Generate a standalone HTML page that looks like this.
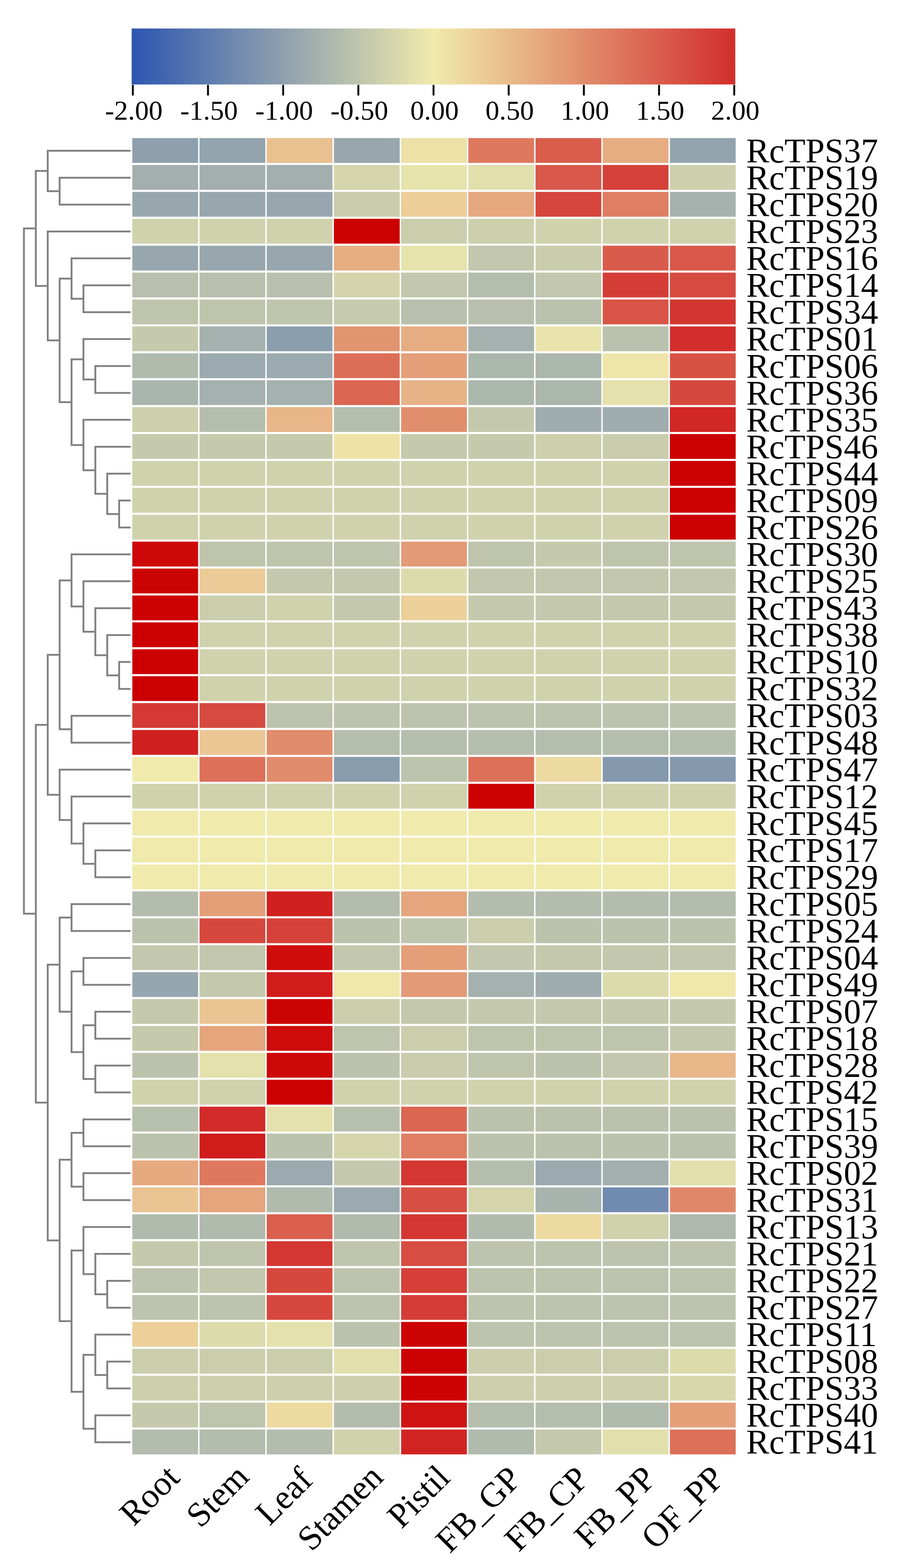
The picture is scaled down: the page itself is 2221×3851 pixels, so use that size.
<!DOCTYPE html>
<html lang="en">
<head>
<meta charset="utf-8">
<title>RcTPS expression heatmap</title>
<style>
html,body{margin:0;padding:0;background:#fff;}
body{width:2221px;height:3851px;overflow:hidden;}
svg{display:block;}
.t{font-family:"Liberation Serif","Times New Roman",Times,serif;fill:#000;}
</style>
</head>
<body>
<svg width="2221" height="3851" viewBox="0 0 2221 3851" role="img" aria-label="Heatmap of RcTPS gene expression">
<defs><linearGradient id="cb" x1="0" y1="0" x2="1" y2="0">
<stop offset="0" stop-color="#2c56b0"/><stop offset="0.5" stop-color="#f0eaac"/><stop offset="1" stop-color="#d22e2c"/>
</linearGradient></defs>
<rect width="2221" height="3851" fill="#fff"/>
<rect x="323.5" y="70" width="1483" height="137.5" fill="url(#cb)"/>
<g fill="#000">
<rect x="324" y="208.5" width="4.6" height="26"/>
<rect x="508.7" y="208.5" width="4.6" height="26"/>
<rect x="693.4" y="208.5" width="4.6" height="26"/>
<rect x="878.1" y="208.5" width="4.6" height="26"/>
<rect x="1062.8" y="208.5" width="4.6" height="26"/>
<rect x="1247.5" y="208.5" width="4.6" height="26"/>
<rect x="1432.2" y="208.5" width="4.6" height="26"/>
<rect x="1616.9" y="208.5" width="4.6" height="26"/>
<rect x="1801.6" y="208.5" width="4.6" height="26"/>
</g>
<g class="t" font-size="68" text-anchor="middle">
<text x="328.8" y="294.2">-2.00</text>
<text x="513.5" y="294.2">-1.50</text>
<text x="698.2" y="294.2">-1.00</text>
<text x="882.9" y="294.2">-0.50</text>
<text x="1067.6" y="294.2">0.00</text>
<text x="1252.3" y="294.2">0.50</text>
<text x="1437" y="294.2">1.00</text>
<text x="1621.7" y="294.2">1.50</text>
<text x="1806.4" y="294.2">2.00</text>
</g>
<path d="M320.7 436.38H146.52V502.46H320.7M320.7 370.3H117.28V469.42H146.52M320.7 700.7H205V766.78H320.7M320.7 634.62H175.76V733.74H205M320.7 898.94H234.24V965.02H320.7M320.7 832.86H205V931.98H234.24M320.7 1229.34H292.72V1295.42H320.7M320.7 1163.26H263.48V1262.38H292.72M320.7 1097.18H234.24V1212.82H263.48M320.7 1031.1H205V1155H234.24M205 882.42H175.76V1093.05H205M175.76 684.18H146.52V987.74H175.76M320.7 568.54H117.28V835.96H146.52M117.28 419.86H88.04V702.25H117.28M320.7 1625.82H292.72V1691.9H320.7M320.7 1559.74H263.48V1658.86H292.72M320.7 1493.66H234.24V1609.3H263.48M320.7 1427.58H205V1551.48H234.24M320.7 1361.5H175.76V1489.53H205M320.7 1757.98H175.76V1824.06H320.7M175.76 1425.51H146.52V1791.02H175.76M320.7 2088.38H234.24V2154.46H320.7M320.7 2022.3H205V2121.42H234.24M320.7 1956.22H175.76V2071.86H205M320.7 1890.14H146.52V2014.04H175.76M146.52 1608.27H117.28V1952.09H146.52M320.7 2220.54H175.76V2286.62H320.7M320.7 2352.7H205V2418.78H320.7M320.7 2484.86H234.24V2550.94H320.7M320.7 2617.02H234.24V2683.1H320.7M234.24 2517.9H205V2650.06H234.24M205 2385.74H175.76V2583.98H205M175.76 2253.58H146.52V2484.86H175.76M320.7 2749.18H205V2815.26H320.7M320.7 2881.34H205V2947.42H320.7M205 2782.22H175.76V2914.38H205M320.7 3145.66H263.48V3211.74H320.7M320.7 3079.58H234.24V3178.7H263.48M320.7 3013.5H205V3129.14H234.24M320.7 3343.9H263.48V3409.98H320.7M320.7 3277.82H234.24V3376.94H263.48M320.7 3476.06H234.24V3542.14H320.7M234.24 3327.38H205V3509.1H234.24M205 3071.32H175.76V3418.24H205M175.76 2848.3H146.52V3244.78H175.76M146.52 2369.22H117.28V3046.54H146.52M117.28 1780.18H88.04V2707.88H117.28M88.04 561.05H58.8V2244.03H88.04" fill="none" stroke="#808080" stroke-width="4.5" stroke-linejoin="miter" stroke-linecap="butt"/>
<g>
<rect x="325.1" y="339.1" width="161.6" height="61" fill="#8ea0ae"/>
<rect x="490.2" y="339.1" width="161.6" height="61" fill="#93a4ae"/>
<rect x="655.3" y="339.1" width="161.6" height="61" fill="#e9c08f"/>
<rect x="820.4" y="339.1" width="161.6" height="61" fill="#98a7ae"/>
<rect x="985.5" y="339.1" width="161.6" height="61" fill="#eee1a6"/>
<rect x="1150.6" y="339.1" width="161.6" height="61" fill="#de795f"/>
<rect x="1315.7" y="339.1" width="161.6" height="61" fill="#da5d4c"/>
<rect x="1480.8" y="339.1" width="161.6" height="61" fill="#e6ad82"/>
<rect x="1645.9" y="339.1" width="161.6" height="61" fill="#93a4ae"/>
<rect x="325.1" y="405.18" width="161.6" height="61" fill="#a2afae"/>
<rect x="490.2" y="405.18" width="161.6" height="61" fill="#a2afae"/>
<rect x="655.3" y="405.18" width="161.6" height="61" fill="#a2afae"/>
<rect x="820.4" y="405.18" width="161.6" height="61" fill="#d5d5ad"/>
<rect x="985.5" y="405.18" width="161.6" height="61" fill="#e6e3ac"/>
<rect x="1150.6" y="405.18" width="161.6" height="61" fill="#e1dfac"/>
<rect x="1315.7" y="405.18" width="161.6" height="61" fill="#d95849"/>
<rect x="1480.8" y="405.18" width="161.6" height="61" fill="#d54139"/>
<rect x="1645.9" y="405.18" width="161.6" height="61" fill="#ced0ad"/>
<rect x="325.1" y="471.26" width="161.6" height="61" fill="#98a7ae"/>
<rect x="490.2" y="471.26" width="161.6" height="61" fill="#98a7ae"/>
<rect x="655.3" y="471.26" width="161.6" height="61" fill="#98a7ae"/>
<rect x="820.4" y="471.26" width="161.6" height="61" fill="#c9ccad"/>
<rect x="985.5" y="471.26" width="161.6" height="61" fill="#ecce99"/>
<rect x="1150.6" y="471.26" width="161.6" height="61" fill="#e6a87f"/>
<rect x="1315.7" y="471.26" width="161.6" height="61" fill="#d6463c"/>
<rect x="1480.8" y="471.26" width="161.6" height="61" fill="#df7e62"/>
<rect x="1645.9" y="471.26" width="161.6" height="61" fill="#a6b2ae"/>
<rect x="325.1" y="537.34" width="161.6" height="61" fill="#d0d2ad"/>
<rect x="490.2" y="537.34" width="161.6" height="61" fill="#d0d2ad"/>
<rect x="655.3" y="537.34" width="161.6" height="61" fill="#d0d2ad"/>
<rect x="820.4" y="537.34" width="161.6" height="61" fill="#cc0000"/>
<rect x="985.5" y="537.34" width="161.6" height="61" fill="#cbcead"/>
<rect x="1150.6" y="537.34" width="161.6" height="61" fill="#cdcfad"/>
<rect x="1315.7" y="537.34" width="161.6" height="61" fill="#d0d2ad"/>
<rect x="1480.8" y="537.34" width="161.6" height="61" fill="#d0d2ad"/>
<rect x="1645.9" y="537.34" width="161.6" height="61" fill="#d0d2ad"/>
<rect x="325.1" y="603.42" width="161.6" height="61" fill="#98a7ae"/>
<rect x="490.2" y="603.42" width="161.6" height="61" fill="#98a7ae"/>
<rect x="655.3" y="603.42" width="161.6" height="61" fill="#98a7ae"/>
<rect x="820.4" y="603.42" width="161.6" height="61" fill="#e6ad82"/>
<rect x="985.5" y="603.42" width="161.6" height="61" fill="#e6e3ac"/>
<rect x="1150.6" y="603.42" width="161.6" height="61" fill="#c2c7ad"/>
<rect x="1315.7" y="603.42" width="161.6" height="61" fill="#c9ccad"/>
<rect x="1480.8" y="603.42" width="161.6" height="61" fill="#d95b4b"/>
<rect x="1645.9" y="603.42" width="161.6" height="61" fill="#d95849"/>
<rect x="325.1" y="669.5" width="161.6" height="61" fill="#b8c0ad"/>
<rect x="490.2" y="669.5" width="161.6" height="61" fill="#b8c0ad"/>
<rect x="655.3" y="669.5" width="161.6" height="61" fill="#b8c0ad"/>
<rect x="820.4" y="669.5" width="161.6" height="61" fill="#d3d4ad"/>
<rect x="985.5" y="669.5" width="161.6" height="61" fill="#c2c7ad"/>
<rect x="1150.6" y="669.5" width="161.6" height="61" fill="#b5bead"/>
<rect x="1315.7" y="669.5" width="161.6" height="61" fill="#c2c7ad"/>
<rect x="1480.8" y="669.5" width="161.6" height="61" fill="#d53e37"/>
<rect x="1645.9" y="669.5" width="161.6" height="61" fill="#d64a3f"/>
<rect x="325.1" y="735.58" width="161.6" height="61" fill="#bfc5ad"/>
<rect x="490.2" y="735.58" width="161.6" height="61" fill="#bfc5ad"/>
<rect x="655.3" y="735.58" width="161.6" height="61" fill="#bfc5ad"/>
<rect x="820.4" y="735.58" width="161.6" height="61" fill="#c7cbad"/>
<rect x="985.5" y="735.58" width="161.6" height="61" fill="#b8c0ad"/>
<rect x="1150.6" y="735.58" width="161.6" height="61" fill="#b8c0ad"/>
<rect x="1315.7" y="735.58" width="161.6" height="61" fill="#bac1ad"/>
<rect x="1480.8" y="735.58" width="161.6" height="61" fill="#d85446"/>
<rect x="1645.9" y="735.58" width="161.6" height="61" fill="#d33530"/>
<rect x="325.1" y="801.66" width="161.6" height="61" fill="#c6caad"/>
<rect x="490.2" y="801.66" width="161.6" height="61" fill="#a5b1ae"/>
<rect x="655.3" y="801.66" width="161.6" height="61" fill="#8c9fae"/>
<rect x="820.4" y="801.66" width="161.6" height="61" fill="#e29471"/>
<rect x="985.5" y="801.66" width="161.6" height="61" fill="#e6ad82"/>
<rect x="1150.6" y="801.66" width="161.6" height="61" fill="#a5b1ae"/>
<rect x="1315.7" y="801.66" width="161.6" height="61" fill="#e8e4ac"/>
<rect x="1480.8" y="801.66" width="161.6" height="61" fill="#bac1ad"/>
<rect x="1645.9" y="801.66" width="161.6" height="61" fill="#d22e2c"/>
<rect x="325.1" y="867.74" width="161.6" height="61" fill="#b0baad"/>
<rect x="490.2" y="867.74" width="161.6" height="61" fill="#9baaae"/>
<rect x="655.3" y="867.74" width="161.6" height="61" fill="#9baaae"/>
<rect x="820.4" y="867.74" width="161.6" height="61" fill="#dc6e58"/>
<rect x="985.5" y="867.74" width="161.6" height="61" fill="#e49f79"/>
<rect x="1150.6" y="867.74" width="161.6" height="61" fill="#abb6ad"/>
<rect x="1315.7" y="867.74" width="161.6" height="61" fill="#abb6ad"/>
<rect x="1480.8" y="867.74" width="161.6" height="61" fill="#efe5a9"/>
<rect x="1645.9" y="867.74" width="161.6" height="61" fill="#d85244"/>
<rect x="325.1" y="933.82" width="161.6" height="61" fill="#a9b5ad"/>
<rect x="490.2" y="933.82" width="161.6" height="61" fill="#a5b1ae"/>
<rect x="655.3" y="933.82" width="161.6" height="61" fill="#a5b1ae"/>
<rect x="820.4" y="933.82" width="161.6" height="61" fill="#db6652"/>
<rect x="985.5" y="933.82" width="161.6" height="61" fill="#e7b387"/>
<rect x="1150.6" y="933.82" width="161.6" height="61" fill="#abb6ad"/>
<rect x="1315.7" y="933.82" width="161.6" height="61" fill="#abb6ad"/>
<rect x="1480.8" y="933.82" width="161.6" height="61" fill="#e4e1ac"/>
<rect x="1645.9" y="933.82" width="161.6" height="61" fill="#d6483e"/>
<rect x="325.1" y="999.9" width="161.6" height="61" fill="#ced0ad"/>
<rect x="490.2" y="999.9" width="161.6" height="61" fill="#b5bead"/>
<rect x="655.3" y="999.9" width="161.6" height="61" fill="#e8b689"/>
<rect x="820.4" y="999.9" width="161.6" height="61" fill="#b5bead"/>
<rect x="985.5" y="999.9" width="161.6" height="61" fill="#e18e6d"/>
<rect x="1150.6" y="999.9" width="161.6" height="61" fill="#c4c9ad"/>
<rect x="1315.7" y="999.9" width="161.6" height="61" fill="#a0adae"/>
<rect x="1480.8" y="999.9" width="161.6" height="61" fill="#a0adae"/>
<rect x="1645.9" y="999.9" width="161.6" height="61" fill="#d12725"/>
<rect x="325.1" y="1065.98" width="161.6" height="61" fill="#c6caad"/>
<rect x="490.2" y="1065.98" width="161.6" height="61" fill="#c6caad"/>
<rect x="655.3" y="1065.98" width="161.6" height="61" fill="#c6caad"/>
<rect x="820.4" y="1065.98" width="161.6" height="61" fill="#efe2a7"/>
<rect x="985.5" y="1065.98" width="161.6" height="61" fill="#c6caad"/>
<rect x="1150.6" y="1065.98" width="161.6" height="61" fill="#c6caad"/>
<rect x="1315.7" y="1065.98" width="161.6" height="61" fill="#cdcfad"/>
<rect x="1480.8" y="1065.98" width="161.6" height="61" fill="#c9ccad"/>
<rect x="1645.9" y="1065.98" width="161.6" height="61" fill="#cc0000"/>
<rect x="325.1" y="1132.06" width="161.6" height="61" fill="#d0d2ad"/>
<rect x="490.2" y="1132.06" width="161.6" height="61" fill="#d0d2ad"/>
<rect x="655.3" y="1132.06" width="161.6" height="61" fill="#d0d2ad"/>
<rect x="820.4" y="1132.06" width="161.6" height="61" fill="#d0d2ad"/>
<rect x="985.5" y="1132.06" width="161.6" height="61" fill="#d0d2ad"/>
<rect x="1150.6" y="1132.06" width="161.6" height="61" fill="#d0d2ad"/>
<rect x="1315.7" y="1132.06" width="161.6" height="61" fill="#d0d2ad"/>
<rect x="1480.8" y="1132.06" width="161.6" height="61" fill="#d0d2ad"/>
<rect x="1645.9" y="1132.06" width="161.6" height="61" fill="#cc0000"/>
<rect x="325.1" y="1198.14" width="161.6" height="61" fill="#d0d2ad"/>
<rect x="490.2" y="1198.14" width="161.6" height="61" fill="#d0d2ad"/>
<rect x="655.3" y="1198.14" width="161.6" height="61" fill="#d0d2ad"/>
<rect x="820.4" y="1198.14" width="161.6" height="61" fill="#d0d2ad"/>
<rect x="985.5" y="1198.14" width="161.6" height="61" fill="#d0d2ad"/>
<rect x="1150.6" y="1198.14" width="161.6" height="61" fill="#d0d2ad"/>
<rect x="1315.7" y="1198.14" width="161.6" height="61" fill="#d0d2ad"/>
<rect x="1480.8" y="1198.14" width="161.6" height="61" fill="#d0d2ad"/>
<rect x="1645.9" y="1198.14" width="161.6" height="61" fill="#cc0000"/>
<rect x="325.1" y="1264.22" width="161.6" height="61" fill="#d0d2ad"/>
<rect x="490.2" y="1264.22" width="161.6" height="61" fill="#d0d2ad"/>
<rect x="655.3" y="1264.22" width="161.6" height="61" fill="#d0d2ad"/>
<rect x="820.4" y="1264.22" width="161.6" height="61" fill="#d0d2ad"/>
<rect x="985.5" y="1264.22" width="161.6" height="61" fill="#d0d2ad"/>
<rect x="1150.6" y="1264.22" width="161.6" height="61" fill="#d0d2ad"/>
<rect x="1315.7" y="1264.22" width="161.6" height="61" fill="#d0d2ad"/>
<rect x="1480.8" y="1264.22" width="161.6" height="61" fill="#d0d2ad"/>
<rect x="1645.9" y="1264.22" width="161.6" height="61" fill="#cc0000"/>
<rect x="325.1" y="1330.3" width="161.6" height="61" fill="#cd0808"/>
<rect x="490.2" y="1330.3" width="161.6" height="61" fill="#bfc5ad"/>
<rect x="655.3" y="1330.3" width="161.6" height="61" fill="#bfc5ad"/>
<rect x="820.4" y="1330.3" width="161.6" height="61" fill="#bfc5ad"/>
<rect x="985.5" y="1330.3" width="161.6" height="61" fill="#e39a76"/>
<rect x="1150.6" y="1330.3" width="161.6" height="61" fill="#bfc5ad"/>
<rect x="1315.7" y="1330.3" width="161.6" height="61" fill="#c6caad"/>
<rect x="1480.8" y="1330.3" width="161.6" height="61" fill="#bfc5ad"/>
<rect x="1645.9" y="1330.3" width="161.6" height="61" fill="#bfc5ad"/>
<rect x="325.1" y="1396.38" width="161.6" height="61" fill="#cc0303"/>
<rect x="490.2" y="1396.38" width="161.6" height="61" fill="#ebcb97"/>
<rect x="655.3" y="1396.38" width="161.6" height="61" fill="#c4c9ad"/>
<rect x="820.4" y="1396.38" width="161.6" height="61" fill="#c4c9ad"/>
<rect x="985.5" y="1396.38" width="161.6" height="61" fill="#dcdbac"/>
<rect x="1150.6" y="1396.38" width="161.6" height="61" fill="#c2c7ad"/>
<rect x="1315.7" y="1396.38" width="161.6" height="61" fill="#c2c7ad"/>
<rect x="1480.8" y="1396.38" width="161.6" height="61" fill="#c2c7ad"/>
<rect x="1645.9" y="1396.38" width="161.6" height="61" fill="#c2c7ad"/>
<rect x="325.1" y="1462.46" width="161.6" height="61" fill="#cc0202"/>
<rect x="490.2" y="1462.46" width="161.6" height="61" fill="#cbcead"/>
<rect x="655.3" y="1462.46" width="161.6" height="61" fill="#d0d2ad"/>
<rect x="820.4" y="1462.46" width="161.6" height="61" fill="#c4c9ad"/>
<rect x="985.5" y="1462.46" width="161.6" height="61" fill="#ecd19b"/>
<rect x="1150.6" y="1462.46" width="161.6" height="61" fill="#c4c9ad"/>
<rect x="1315.7" y="1462.46" width="161.6" height="61" fill="#c4c9ad"/>
<rect x="1480.8" y="1462.46" width="161.6" height="61" fill="#c4c9ad"/>
<rect x="1645.9" y="1462.46" width="161.6" height="61" fill="#c4c9ad"/>
<rect x="325.1" y="1528.54" width="161.6" height="61" fill="#cc0000"/>
<rect x="490.2" y="1528.54" width="161.6" height="61" fill="#d0d2ad"/>
<rect x="655.3" y="1528.54" width="161.6" height="61" fill="#d0d2ad"/>
<rect x="820.4" y="1528.54" width="161.6" height="61" fill="#d0d2ad"/>
<rect x="985.5" y="1528.54" width="161.6" height="61" fill="#d0d2ad"/>
<rect x="1150.6" y="1528.54" width="161.6" height="61" fill="#d0d2ad"/>
<rect x="1315.7" y="1528.54" width="161.6" height="61" fill="#d0d2ad"/>
<rect x="1480.8" y="1528.54" width="161.6" height="61" fill="#d0d2ad"/>
<rect x="1645.9" y="1528.54" width="161.6" height="61" fill="#d0d2ad"/>
<rect x="325.1" y="1594.62" width="161.6" height="61" fill="#cc0000"/>
<rect x="490.2" y="1594.62" width="161.6" height="61" fill="#d0d2ad"/>
<rect x="655.3" y="1594.62" width="161.6" height="61" fill="#d0d2ad"/>
<rect x="820.4" y="1594.62" width="161.6" height="61" fill="#d0d2ad"/>
<rect x="985.5" y="1594.62" width="161.6" height="61" fill="#d0d2ad"/>
<rect x="1150.6" y="1594.62" width="161.6" height="61" fill="#d0d2ad"/>
<rect x="1315.7" y="1594.62" width="161.6" height="61" fill="#d0d2ad"/>
<rect x="1480.8" y="1594.62" width="161.6" height="61" fill="#d0d2ad"/>
<rect x="1645.9" y="1594.62" width="161.6" height="61" fill="#d0d2ad"/>
<rect x="325.1" y="1660.7" width="161.6" height="61" fill="#cc0000"/>
<rect x="490.2" y="1660.7" width="161.6" height="61" fill="#d0d2ad"/>
<rect x="655.3" y="1660.7" width="161.6" height="61" fill="#d0d2ad"/>
<rect x="820.4" y="1660.7" width="161.6" height="61" fill="#d0d2ad"/>
<rect x="985.5" y="1660.7" width="161.6" height="61" fill="#d0d2ad"/>
<rect x="1150.6" y="1660.7" width="161.6" height="61" fill="#d0d2ad"/>
<rect x="1315.7" y="1660.7" width="161.6" height="61" fill="#d0d2ad"/>
<rect x="1480.8" y="1660.7" width="161.6" height="61" fill="#d0d2ad"/>
<rect x="1645.9" y="1660.7" width="161.6" height="61" fill="#d0d2ad"/>
<rect x="325.1" y="1726.78" width="161.6" height="61" fill="#d43934"/>
<rect x="490.2" y="1726.78" width="161.6" height="61" fill="#d64a3f"/>
<rect x="655.3" y="1726.78" width="161.6" height="61" fill="#bdc4ad"/>
<rect x="820.4" y="1726.78" width="161.6" height="61" fill="#bdc4ad"/>
<rect x="985.5" y="1726.78" width="161.6" height="61" fill="#bdc4ad"/>
<rect x="1150.6" y="1726.78" width="161.6" height="61" fill="#bdc4ad"/>
<rect x="1315.7" y="1726.78" width="161.6" height="61" fill="#bdc4ad"/>
<rect x="1480.8" y="1726.78" width="161.6" height="61" fill="#bdc4ad"/>
<rect x="1645.9" y="1726.78" width="161.6" height="61" fill="#bdc4ad"/>
<rect x="325.1" y="1792.86" width="161.6" height="61" fill="#d0201f"/>
<rect x="490.2" y="1792.86" width="161.6" height="61" fill="#eac794"/>
<rect x="655.3" y="1792.86" width="161.6" height="61" fill="#e18c6c"/>
<rect x="820.4" y="1792.86" width="161.6" height="61" fill="#b5bead"/>
<rect x="985.5" y="1792.86" width="161.6" height="61" fill="#b5bead"/>
<rect x="1150.6" y="1792.86" width="161.6" height="61" fill="#b5bead"/>
<rect x="1315.7" y="1792.86" width="161.6" height="61" fill="#b5bead"/>
<rect x="1480.8" y="1792.86" width="161.6" height="61" fill="#b5bead"/>
<rect x="1645.9" y="1792.86" width="161.6" height="61" fill="#b5bead"/>
<rect x="325.1" y="1858.94" width="161.6" height="61" fill="#f0eaac"/>
<rect x="490.2" y="1858.94" width="161.6" height="61" fill="#dc7059"/>
<rect x="655.3" y="1858.94" width="161.6" height="61" fill="#e18c6c"/>
<rect x="820.4" y="1858.94" width="161.6" height="61" fill="#899cae"/>
<rect x="985.5" y="1858.94" width="161.6" height="61" fill="#bdc4ad"/>
<rect x="1150.6" y="1858.94" width="161.6" height="61" fill="#dc7059"/>
<rect x="1315.7" y="1858.94" width="161.6" height="61" fill="#eddaa1"/>
<rect x="1480.8" y="1858.94" width="161.6" height="61" fill="#8499ae"/>
<rect x="1645.9" y="1858.94" width="161.6" height="61" fill="#8499ae"/>
<rect x="325.1" y="1925.02" width="161.6" height="61" fill="#d0d2ad"/>
<rect x="490.2" y="1925.02" width="161.6" height="61" fill="#d0d2ad"/>
<rect x="655.3" y="1925.02" width="161.6" height="61" fill="#d0d2ad"/>
<rect x="820.4" y="1925.02" width="161.6" height="61" fill="#d0d2ad"/>
<rect x="985.5" y="1925.02" width="161.6" height="61" fill="#d0d2ad"/>
<rect x="1150.6" y="1925.02" width="161.6" height="61" fill="#cc0000"/>
<rect x="1315.7" y="1925.02" width="161.6" height="61" fill="#d0d2ad"/>
<rect x="1480.8" y="1925.02" width="161.6" height="61" fill="#d0d2ad"/>
<rect x="1645.9" y="1925.02" width="161.6" height="61" fill="#d0d2ad"/>
<rect x="325.1" y="1991.1" width="161.6" height="61" fill="#f0eaac"/>
<rect x="490.2" y="1991.1" width="161.6" height="61" fill="#f0eaac"/>
<rect x="655.3" y="1991.1" width="161.6" height="61" fill="#f0eaac"/>
<rect x="820.4" y="1991.1" width="161.6" height="61" fill="#f0eaac"/>
<rect x="985.5" y="1991.1" width="161.6" height="61" fill="#f0eaac"/>
<rect x="1150.6" y="1991.1" width="161.6" height="61" fill="#f0eaac"/>
<rect x="1315.7" y="1991.1" width="161.6" height="61" fill="#f0eaac"/>
<rect x="1480.8" y="1991.1" width="161.6" height="61" fill="#f0eaac"/>
<rect x="1645.9" y="1991.1" width="161.6" height="61" fill="#f0eaac"/>
<rect x="325.1" y="2057.18" width="161.6" height="61" fill="#f0eaac"/>
<rect x="490.2" y="2057.18" width="161.6" height="61" fill="#f0eaac"/>
<rect x="655.3" y="2057.18" width="161.6" height="61" fill="#f0eaac"/>
<rect x="820.4" y="2057.18" width="161.6" height="61" fill="#f0eaac"/>
<rect x="985.5" y="2057.18" width="161.6" height="61" fill="#f0eaac"/>
<rect x="1150.6" y="2057.18" width="161.6" height="61" fill="#f0eaac"/>
<rect x="1315.7" y="2057.18" width="161.6" height="61" fill="#f0eaac"/>
<rect x="1480.8" y="2057.18" width="161.6" height="61" fill="#f0eaac"/>
<rect x="1645.9" y="2057.18" width="161.6" height="61" fill="#f0eaac"/>
<rect x="325.1" y="2123.26" width="161.6" height="61" fill="#f0eaac"/>
<rect x="490.2" y="2123.26" width="161.6" height="61" fill="#f0eaac"/>
<rect x="655.3" y="2123.26" width="161.6" height="61" fill="#f0eaac"/>
<rect x="820.4" y="2123.26" width="161.6" height="61" fill="#f0eaac"/>
<rect x="985.5" y="2123.26" width="161.6" height="61" fill="#f0eaac"/>
<rect x="1150.6" y="2123.26" width="161.6" height="61" fill="#f0eaac"/>
<rect x="1315.7" y="2123.26" width="161.6" height="61" fill="#f0eaac"/>
<rect x="1480.8" y="2123.26" width="161.6" height="61" fill="#f0eaac"/>
<rect x="1645.9" y="2123.26" width="161.6" height="61" fill="#f0eaac"/>
<rect x="325.1" y="2189.34" width="161.6" height="61" fill="#b3bcad"/>
<rect x="490.2" y="2189.34" width="161.6" height="61" fill="#e49f79"/>
<rect x="655.3" y="2189.34" width="161.6" height="61" fill="#d0201f"/>
<rect x="820.4" y="2189.34" width="161.6" height="61" fill="#b3bcad"/>
<rect x="985.5" y="2189.34" width="161.6" height="61" fill="#e5a57d"/>
<rect x="1150.6" y="2189.34" width="161.6" height="61" fill="#b3bcad"/>
<rect x="1315.7" y="2189.34" width="161.6" height="61" fill="#b3bcad"/>
<rect x="1480.8" y="2189.34" width="161.6" height="61" fill="#b3bcad"/>
<rect x="1645.9" y="2189.34" width="161.6" height="61" fill="#b3bcad"/>
<rect x="325.1" y="2255.42" width="161.6" height="61" fill="#bcc3ad"/>
<rect x="490.2" y="2255.42" width="161.6" height="61" fill="#d6483e"/>
<rect x="655.3" y="2255.42" width="161.6" height="61" fill="#d54139"/>
<rect x="820.4" y="2255.42" width="161.6" height="61" fill="#bcc3ad"/>
<rect x="985.5" y="2255.42" width="161.6" height="61" fill="#bfc5ad"/>
<rect x="1150.6" y="2255.42" width="161.6" height="61" fill="#cbcead"/>
<rect x="1315.7" y="2255.42" width="161.6" height="61" fill="#bcc3ad"/>
<rect x="1480.8" y="2255.42" width="161.6" height="61" fill="#bcc3ad"/>
<rect x="1645.9" y="2255.42" width="161.6" height="61" fill="#bcc3ad"/>
<rect x="325.1" y="2321.5" width="161.6" height="61" fill="#c2c7ad"/>
<rect x="490.2" y="2321.5" width="161.6" height="61" fill="#c2c7ad"/>
<rect x="655.3" y="2321.5" width="161.6" height="61" fill="#ce0c0b"/>
<rect x="820.4" y="2321.5" width="161.6" height="61" fill="#c2c7ad"/>
<rect x="985.5" y="2321.5" width="161.6" height="61" fill="#e49f79"/>
<rect x="1150.6" y="2321.5" width="161.6" height="61" fill="#c2c7ad"/>
<rect x="1315.7" y="2321.5" width="161.6" height="61" fill="#c4c9ad"/>
<rect x="1480.8" y="2321.5" width="161.6" height="61" fill="#c2c7ad"/>
<rect x="1645.9" y="2321.5" width="161.6" height="61" fill="#c2c7ad"/>
<rect x="325.1" y="2387.58" width="161.6" height="61" fill="#96a6ae"/>
<rect x="490.2" y="2387.58" width="161.6" height="61" fill="#c4c9ad"/>
<rect x="655.3" y="2387.58" width="161.6" height="61" fill="#d01d1c"/>
<rect x="820.4" y="2387.58" width="161.6" height="61" fill="#f0e7aa"/>
<rect x="985.5" y="2387.58" width="161.6" height="61" fill="#e39a76"/>
<rect x="1150.6" y="2387.58" width="161.6" height="61" fill="#a5b1ae"/>
<rect x="1315.7" y="2387.58" width="161.6" height="61" fill="#a0adae"/>
<rect x="1480.8" y="2387.58" width="161.6" height="61" fill="#dcdbac"/>
<rect x="1645.9" y="2387.58" width="161.6" height="61" fill="#f0e8ab"/>
<rect x="325.1" y="2453.66" width="161.6" height="61" fill="#c4c9ad"/>
<rect x="490.2" y="2453.66" width="161.6" height="61" fill="#eac492"/>
<rect x="655.3" y="2453.66" width="161.6" height="61" fill="#cc0303"/>
<rect x="820.4" y="2453.66" width="161.6" height="61" fill="#cbcead"/>
<rect x="985.5" y="2453.66" width="161.6" height="61" fill="#c4c9ad"/>
<rect x="1150.6" y="2453.66" width="161.6" height="61" fill="#c4c9ad"/>
<rect x="1315.7" y="2453.66" width="161.6" height="61" fill="#c4c9ad"/>
<rect x="1480.8" y="2453.66" width="161.6" height="61" fill="#c4c9ad"/>
<rect x="1645.9" y="2453.66" width="161.6" height="61" fill="#c4c9ad"/>
<rect x="325.1" y="2519.74" width="161.6" height="61" fill="#c6caad"/>
<rect x="490.2" y="2519.74" width="161.6" height="61" fill="#e5a57d"/>
<rect x="655.3" y="2519.74" width="161.6" height="61" fill="#ce0c0b"/>
<rect x="820.4" y="2519.74" width="161.6" height="61" fill="#bfc5ad"/>
<rect x="985.5" y="2519.74" width="161.6" height="61" fill="#cbcead"/>
<rect x="1150.6" y="2519.74" width="161.6" height="61" fill="#bfc5ad"/>
<rect x="1315.7" y="2519.74" width="161.6" height="61" fill="#bfc5ad"/>
<rect x="1480.8" y="2519.74" width="161.6" height="61" fill="#bfc5ad"/>
<rect x="1645.9" y="2519.74" width="161.6" height="61" fill="#c4c9ad"/>
<rect x="325.1" y="2585.82" width="161.6" height="61" fill="#bcc3ad"/>
<rect x="490.2" y="2585.82" width="161.6" height="61" fill="#e4e1ac"/>
<rect x="655.3" y="2585.82" width="161.6" height="61" fill="#cd0808"/>
<rect x="820.4" y="2585.82" width="161.6" height="61" fill="#bcc3ad"/>
<rect x="985.5" y="2585.82" width="161.6" height="61" fill="#c9ccad"/>
<rect x="1150.6" y="2585.82" width="161.6" height="61" fill="#bfc5ad"/>
<rect x="1315.7" y="2585.82" width="161.6" height="61" fill="#bcc3ad"/>
<rect x="1480.8" y="2585.82" width="161.6" height="61" fill="#c2c7ad"/>
<rect x="1645.9" y="2585.82" width="161.6" height="61" fill="#e8b689"/>
<rect x="325.1" y="2651.9" width="161.6" height="61" fill="#d0d2ad"/>
<rect x="490.2" y="2651.9" width="161.6" height="61" fill="#d0d2ad"/>
<rect x="655.3" y="2651.9" width="161.6" height="61" fill="#cc0000"/>
<rect x="820.4" y="2651.9" width="161.6" height="61" fill="#d0d2ad"/>
<rect x="985.5" y="2651.9" width="161.6" height="61" fill="#d0d2ad"/>
<rect x="1150.6" y="2651.9" width="161.6" height="61" fill="#d0d2ad"/>
<rect x="1315.7" y="2651.9" width="161.6" height="61" fill="#d0d2ad"/>
<rect x="1480.8" y="2651.9" width="161.6" height="61" fill="#d0d2ad"/>
<rect x="1645.9" y="2651.9" width="161.6" height="61" fill="#d0d2ad"/>
<rect x="325.1" y="2717.98" width="161.6" height="61" fill="#b7bfad"/>
<rect x="490.2" y="2717.98" width="161.6" height="61" fill="#d22b29"/>
<rect x="655.3" y="2717.98" width="161.6" height="61" fill="#e4e1ac"/>
<rect x="820.4" y="2717.98" width="161.6" height="61" fill="#b7bfad"/>
<rect x="985.5" y="2717.98" width="161.6" height="61" fill="#db6652"/>
<rect x="1150.6" y="2717.98" width="161.6" height="61" fill="#bac1ad"/>
<rect x="1315.7" y="2717.98" width="161.6" height="61" fill="#bac1ad"/>
<rect x="1480.8" y="2717.98" width="161.6" height="61" fill="#bac1ad"/>
<rect x="1645.9" y="2717.98" width="161.6" height="61" fill="#bac1ad"/>
<rect x="325.1" y="2784.06" width="161.6" height="61" fill="#bcc3ad"/>
<rect x="490.2" y="2784.06" width="161.6" height="61" fill="#d01d1c"/>
<rect x="655.3" y="2784.06" width="161.6" height="61" fill="#bcc3ad"/>
<rect x="820.4" y="2784.06" width="161.6" height="61" fill="#d5d5ad"/>
<rect x="985.5" y="2784.06" width="161.6" height="61" fill="#df7e62"/>
<rect x="1150.6" y="2784.06" width="161.6" height="61" fill="#bcc3ad"/>
<rect x="1315.7" y="2784.06" width="161.6" height="61" fill="#bcc3ad"/>
<rect x="1480.8" y="2784.06" width="161.6" height="61" fill="#bcc3ad"/>
<rect x="1645.9" y="2784.06" width="161.6" height="61" fill="#bcc3ad"/>
<rect x="325.1" y="2850.14" width="161.6" height="61" fill="#e6aa80"/>
<rect x="490.2" y="2850.14" width="161.6" height="61" fill="#de795f"/>
<rect x="655.3" y="2850.14" width="161.6" height="61" fill="#9baaae"/>
<rect x="820.4" y="2850.14" width="161.6" height="61" fill="#c4c9ad"/>
<rect x="985.5" y="2850.14" width="161.6" height="61" fill="#d43732"/>
<rect x="1150.6" y="2850.14" width="161.6" height="61" fill="#b5bead"/>
<rect x="1315.7" y="2850.14" width="161.6" height="61" fill="#9baaae"/>
<rect x="1480.8" y="2850.14" width="161.6" height="61" fill="#a2afae"/>
<rect x="1645.9" y="2850.14" width="161.6" height="61" fill="#e1dfac"/>
<rect x="325.1" y="2916.22" width="161.6" height="61" fill="#eac492"/>
<rect x="490.2" y="2916.22" width="161.6" height="61" fill="#e5a57d"/>
<rect x="655.3" y="2916.22" width="161.6" height="61" fill="#b0baad"/>
<rect x="820.4" y="2916.22" width="161.6" height="61" fill="#9baaae"/>
<rect x="985.5" y="2916.22" width="161.6" height="61" fill="#d74f42"/>
<rect x="1150.6" y="2916.22" width="161.6" height="61" fill="#d5d5ad"/>
<rect x="1315.7" y="2916.22" width="161.6" height="61" fill="#a8b4ad"/>
<rect x="1480.8" y="2916.22" width="161.6" height="61" fill="#718aaf"/>
<rect x="1645.9" y="2916.22" width="161.6" height="61" fill="#e08769"/>
<rect x="325.1" y="2982.3" width="161.6" height="61" fill="#b0baad"/>
<rect x="490.2" y="2982.3" width="161.6" height="61" fill="#b0baad"/>
<rect x="655.3" y="2982.3" width="161.6" height="61" fill="#da5f4d"/>
<rect x="820.4" y="2982.3" width="161.6" height="61" fill="#b0baad"/>
<rect x="985.5" y="2982.3" width="161.6" height="61" fill="#d43732"/>
<rect x="1150.6" y="2982.3" width="161.6" height="61" fill="#b0baad"/>
<rect x="1315.7" y="2982.3" width="161.6" height="61" fill="#eddaa1"/>
<rect x="1480.8" y="2982.3" width="161.6" height="61" fill="#d0d2ad"/>
<rect x="1645.9" y="2982.3" width="161.6" height="61" fill="#aeb8ad"/>
<rect x="325.1" y="3048.38" width="161.6" height="61" fill="#c6caad"/>
<rect x="490.2" y="3048.38" width="161.6" height="61" fill="#bfc5ad"/>
<rect x="655.3" y="3048.38" width="161.6" height="61" fill="#d43732"/>
<rect x="820.4" y="3048.38" width="161.6" height="61" fill="#bfc5ad"/>
<rect x="985.5" y="3048.38" width="161.6" height="61" fill="#d74d41"/>
<rect x="1150.6" y="3048.38" width="161.6" height="61" fill="#bdc4ad"/>
<rect x="1315.7" y="3048.38" width="161.6" height="61" fill="#bdc4ad"/>
<rect x="1480.8" y="3048.38" width="161.6" height="61" fill="#bdc4ad"/>
<rect x="1645.9" y="3048.38" width="161.6" height="61" fill="#bdc4ad"/>
<rect x="325.1" y="3114.46" width="161.6" height="61" fill="#bdc4ad"/>
<rect x="490.2" y="3114.46" width="161.6" height="61" fill="#c2c7ad"/>
<rect x="655.3" y="3114.46" width="161.6" height="61" fill="#d6483e"/>
<rect x="820.4" y="3114.46" width="161.6" height="61" fill="#bdc4ad"/>
<rect x="985.5" y="3114.46" width="161.6" height="61" fill="#d53f38"/>
<rect x="1150.6" y="3114.46" width="161.6" height="61" fill="#bdc4ad"/>
<rect x="1315.7" y="3114.46" width="161.6" height="61" fill="#bdc4ad"/>
<rect x="1480.8" y="3114.46" width="161.6" height="61" fill="#bdc4ad"/>
<rect x="1645.9" y="3114.46" width="161.6" height="61" fill="#bdc4ad"/>
<rect x="325.1" y="3180.54" width="161.6" height="61" fill="#bdc4ad"/>
<rect x="490.2" y="3180.54" width="161.6" height="61" fill="#bdc4ad"/>
<rect x="655.3" y="3180.54" width="161.6" height="61" fill="#d6483e"/>
<rect x="820.4" y="3180.54" width="161.6" height="61" fill="#bdc4ad"/>
<rect x="985.5" y="3180.54" width="161.6" height="61" fill="#d43c36"/>
<rect x="1150.6" y="3180.54" width="161.6" height="61" fill="#bdc4ad"/>
<rect x="1315.7" y="3180.54" width="161.6" height="61" fill="#bdc4ad"/>
<rect x="1480.8" y="3180.54" width="161.6" height="61" fill="#bdc4ad"/>
<rect x="1645.9" y="3180.54" width="161.6" height="61" fill="#bdc4ad"/>
<rect x="325.1" y="3246.62" width="161.6" height="61" fill="#ecd09a"/>
<rect x="490.2" y="3246.62" width="161.6" height="61" fill="#dcdbac"/>
<rect x="655.3" y="3246.62" width="161.6" height="61" fill="#e4e1ac"/>
<rect x="820.4" y="3246.62" width="161.6" height="61" fill="#bcc3ad"/>
<rect x="985.5" y="3246.62" width="161.6" height="61" fill="#cc0303"/>
<rect x="1150.6" y="3246.62" width="161.6" height="61" fill="#bdc4ad"/>
<rect x="1315.7" y="3246.62" width="161.6" height="61" fill="#bdc4ad"/>
<rect x="1480.8" y="3246.62" width="161.6" height="61" fill="#bdc4ad"/>
<rect x="1645.9" y="3246.62" width="161.6" height="61" fill="#bdc4ad"/>
<rect x="325.1" y="3312.7" width="161.6" height="61" fill="#cbcead"/>
<rect x="490.2" y="3312.7" width="161.6" height="61" fill="#cbcead"/>
<rect x="655.3" y="3312.7" width="161.6" height="61" fill="#cbcead"/>
<rect x="820.4" y="3312.7" width="161.6" height="61" fill="#e1dfac"/>
<rect x="985.5" y="3312.7" width="161.6" height="61" fill="#cc0202"/>
<rect x="1150.6" y="3312.7" width="161.6" height="61" fill="#cbcead"/>
<rect x="1315.7" y="3312.7" width="161.6" height="61" fill="#cbcead"/>
<rect x="1480.8" y="3312.7" width="161.6" height="61" fill="#cbcead"/>
<rect x="1645.9" y="3312.7" width="161.6" height="61" fill="#dcdbac"/>
<rect x="325.1" y="3378.78" width="161.6" height="61" fill="#ced0ad"/>
<rect x="490.2" y="3378.78" width="161.6" height="61" fill="#ced0ad"/>
<rect x="655.3" y="3378.78" width="161.6" height="61" fill="#ced0ad"/>
<rect x="820.4" y="3378.78" width="161.6" height="61" fill="#ced0ad"/>
<rect x="985.5" y="3378.78" width="161.6" height="61" fill="#cc0101"/>
<rect x="1150.6" y="3378.78" width="161.6" height="61" fill="#ced0ad"/>
<rect x="1315.7" y="3378.78" width="161.6" height="61" fill="#ced0ad"/>
<rect x="1480.8" y="3378.78" width="161.6" height="61" fill="#ced0ad"/>
<rect x="1645.9" y="3378.78" width="161.6" height="61" fill="#d8d8ac"/>
<rect x="325.1" y="3444.86" width="161.6" height="61" fill="#c6caad"/>
<rect x="490.2" y="3444.86" width="161.6" height="61" fill="#bfc5ad"/>
<rect x="655.3" y="3444.86" width="161.6" height="61" fill="#eddaa1"/>
<rect x="820.4" y="3444.86" width="161.6" height="61" fill="#b3bcad"/>
<rect x="985.5" y="3444.86" width="161.6" height="61" fill="#ce1312"/>
<rect x="1150.6" y="3444.86" width="161.6" height="61" fill="#b5bead"/>
<rect x="1315.7" y="3444.86" width="161.6" height="61" fill="#b5bead"/>
<rect x="1480.8" y="3444.86" width="161.6" height="61" fill="#b0baad"/>
<rect x="1645.9" y="3444.86" width="161.6" height="61" fill="#e49f79"/>
<rect x="325.1" y="3510.94" width="161.6" height="61" fill="#b3bcad"/>
<rect x="490.2" y="3510.94" width="161.6" height="61" fill="#b3bcad"/>
<rect x="655.3" y="3510.94" width="161.6" height="61" fill="#b3bcad"/>
<rect x="820.4" y="3510.94" width="161.6" height="61" fill="#d0d2ad"/>
<rect x="985.5" y="3510.94" width="161.6" height="61" fill="#d12422"/>
<rect x="1150.6" y="3510.94" width="161.6" height="61" fill="#b0baad"/>
<rect x="1315.7" y="3510.94" width="161.6" height="61" fill="#c4c9ad"/>
<rect x="1480.8" y="3510.94" width="161.6" height="61" fill="#e1dfac"/>
<rect x="1645.9" y="3510.94" width="161.6" height="61" fill="#dc7059"/>
</g>
<g class="t" font-size="84.5">
<text x="1833.5" y="399">RcTPS37</text>
<text x="1833.5" y="465.07">RcTPS19</text>
<text x="1833.5" y="531.14">RcTPS20</text>
<text x="1833.5" y="597.21">RcTPS23</text>
<text x="1833.5" y="663.28">RcTPS16</text>
<text x="1833.5" y="729.35">RcTPS14</text>
<text x="1833.5" y="795.42">RcTPS34</text>
<text x="1833.5" y="861.49">RcTPS01</text>
<text x="1833.5" y="927.56">RcTPS06</text>
<text x="1833.5" y="993.63">RcTPS36</text>
<text x="1833.5" y="1059.7">RcTPS35</text>
<text x="1833.5" y="1125.77">RcTPS46</text>
<text x="1833.5" y="1191.84">RcTPS44</text>
<text x="1833.5" y="1257.91">RcTPS09</text>
<text x="1833.5" y="1323.98">RcTPS26</text>
<text x="1833.5" y="1390.05">RcTPS30</text>
<text x="1833.5" y="1456.12">RcTPS25</text>
<text x="1833.5" y="1522.19">RcTPS43</text>
<text x="1833.5" y="1588.26">RcTPS38</text>
<text x="1833.5" y="1654.33">RcTPS10</text>
<text x="1833.5" y="1720.4">RcTPS32</text>
<text x="1833.5" y="1786.47">RcTPS03</text>
<text x="1833.5" y="1852.54">RcTPS48</text>
<text x="1833.5" y="1918.61">RcTPS47</text>
<text x="1833.5" y="1984.68">RcTPS12</text>
<text x="1833.5" y="2050.75">RcTPS45</text>
<text x="1833.5" y="2116.82">RcTPS17</text>
<text x="1833.5" y="2182.89">RcTPS29</text>
<text x="1833.5" y="2248.96">RcTPS05</text>
<text x="1833.5" y="2315.03">RcTPS24</text>
<text x="1833.5" y="2381.1">RcTPS04</text>
<text x="1833.5" y="2447.17">RcTPS49</text>
<text x="1833.5" y="2513.24">RcTPS07</text>
<text x="1833.5" y="2579.31">RcTPS18</text>
<text x="1833.5" y="2645.38">RcTPS28</text>
<text x="1833.5" y="2711.45">RcTPS42</text>
<text x="1833.5" y="2777.52">RcTPS15</text>
<text x="1833.5" y="2843.59">RcTPS39</text>
<text x="1833.5" y="2909.66">RcTPS02</text>
<text x="1833.5" y="2975.73">RcTPS31</text>
<text x="1833.5" y="3041.8">RcTPS13</text>
<text x="1833.5" y="3107.87">RcTPS21</text>
<text x="1833.5" y="3173.94">RcTPS22</text>
<text x="1833.5" y="3240.01">RcTPS27</text>
<text x="1833.5" y="3306.08">RcTPS11</text>
<text x="1833.5" y="3372.15">RcTPS08</text>
<text x="1833.5" y="3438.22">RcTPS33</text>
<text x="1833.5" y="3504.29">RcTPS40</text>
<text x="1833.5" y="3570.36">RcTPS41</text>
</g>
<g class="t" font-size="85" text-anchor="end">
<text transform="translate(445.4 3633.5) rotate(-45)">Root</text>
<text transform="translate(615.7 3631.6) rotate(-45)">Stem</text>
<text transform="translate(772.4 3639.3) rotate(-45)">Leaf</text>
<text transform="translate(945.6 3632.4) rotate(-45)">Stamen</text>
<text transform="translate(1109.9 3633.5) rotate(-45)">Pistil</text>
<text transform="translate(1285.3 3636.5) rotate(-45)">FB_GP</text>
<text transform="translate(1451.4 3636.9) rotate(-45)">FB_CP</text>
<text transform="translate(1616.2 3635.8) rotate(-45)">FB_PP</text>
<text transform="translate(1783.9 3635.2) rotate(-45)">OF_PP</text>
</g>
</svg>
</body>
</html>
